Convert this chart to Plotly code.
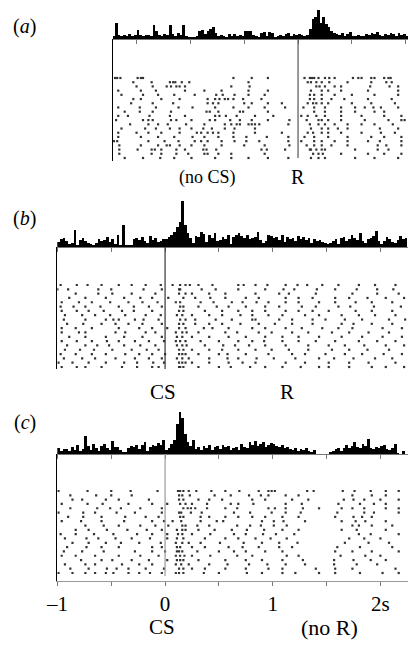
import plotly.graph_objects as go

# ---------------- data ----------------
BIN_W = 0.025  # s

# (a) aligned on R (no CS)
hist_a_start = -1.725
hist_a = [3, 16, 4, 3, 4, 3, 5, 3, 4, 9,
          4, 3, 4, 4, 3, 14, 8, 4, 3, 5,
          4, 14, 5, 3, 6, 4, 14, 3, 2, 2,
          2, 3, 8, 9, 5, 8, 10, 12, 6, 3,
          4, 3, 2, 5, 3, 5, 3, 4, 3, 8,
          8, 8, 4, 3, 2, 6, 7, 3, 7, 6,
          2, 3, 4, 3, 5, 6, 3, 5, 4, 5,
          4, 3, 4, 10, 20, 22, 29, 16, 22, 15,
          12, 8, 6, 5, 4, 6, 3, 5, 7, 3,
          3, 4, 3, 3, 5, 4, 6, 5, 7, 4,
          3, 5, 4, 6, 5, 3, 6, 4, 5, 3]

# (b) aligned on CS, R follows
hist_b_start = -1.0
hist_b = [5, 8, 9, 6, 3, 4, 17, 2, 7, 9,
          6, 4, 3, 2, 4, 8, 6, 7, 10, 5,
          8, 3, 12, 2, 22, 2, 2, 2, 8, 9,
          7, 10, 6, 4, 11, 7, 9, 5, 6, 8,
          8, 10, 12, 15, 20, 25, 46, 22, 14, 9,
          4, 11, 10, 15, 13, 5, 12, 9, 14, 6,
          7, 10, 8, 12, 3, 10, 12, 14, 11, 9,
          12, 8, 9, 10, 15, 7, 4, 6, 12, 11,
          9, 10, 7, 12, 5, 10, 8, 9, 6, 11,
          8, 10, 7, 9, 4, 8, 6, 7, 5, 4,
          3, 4, 6, 8, 3, 9, 10, 6, 8, 12,
          9, 7, 14, 6, 4, 8, 9, 11, 16, 6,
          3, 6, 10, 8, 5, 4, 7, 11, 8, 9]

# (c) aligned on CS, no R
hist_c_start = -1.0
hist_c = [6, 3, 5, 5, 3, 7, 4, 9, 3, 5,
          18, 8, 4, 10, 6, 3, 8, 10, 6, 4,
          13, 7, 7, 4, 2, 2, 6, 8, 7, 9,
          5, 9, 12, 3, 7, 9, 8, 11, 9, 14,
          4, 6, 10, 14, 30, 42, 36, 20, 12, 8,
          14, 5, 7, 4, 8, 6, 9, 4, 7, 8,
          5, 9, 7, 8, 4, 6, 7, 4, 10, 7,
          6, 12, 9, 13, 8, 10, 12, 7, 9, 11,
          10, 8, 7, 9, 6, 7, 5, 4, 6, 3,
          5, 4, 6, 3, 2, 4, 0, 0, 0, 0,
          0, 2, 3, 5, 6, 3, 6, 9, 6, 8,
          12, 7, 6, 10, 8, 15, 6, 5, 7, 6,
          8, 9, 5, 4, 6, 10, 1, 0, 3, 0]

raster_a = [
    [-1.70, -1.68, -1.65, -1.49, -1.46, -1.44, -0.60, -0.43, -0.28, 0.06, 0.11, 0.13, 0.15, 0.19, 0.25, 0.29, 0.34, 0.51, 0.56, 0.59, 0.68, 0.71, 0.80, 0.84, 0.86],
    [-1.53, -1.36, -1.19, -1.16, -1.14, -1.08, -1.01, -0.46, 0.09, 0.12, 0.17, 0.22, 0.29, 0.46, 0.68, 0.82, 0.87],
    [-1.50, -1.35, -1.22, -1.18, -1.13, -1.10, -1.05, -0.62, -0.45, 0.17, 0.20, 0.25, 0.34, 0.40, 0.67, 0.85, 0.93],
    [-1.67, -1.46, -1.32, -1.05, -0.87, -0.71, -0.46, -0.28, 0.12, 0.22, 0.28, 0.40, 0.65, 0.93],
    [-1.64, -1.44, -1.30, -1.15, -0.96, -0.76, -0.70, -0.59, -0.46, -0.31, 0.11, 0.15, 0.22, 0.34, 0.50, 0.71, 0.93],
    [-1.53, -1.46, -1.27, -1.10, -0.84, -0.77, -0.73, -0.68, -0.65, -0.60, -0.51, -0.34, 0.11, 0.15, 0.22, 0.31, 0.43, 0.65, 0.87],
    [-1.55, -1.35, -1.16, -0.84, -0.79, -0.74, -0.50, -0.43, -0.28, -0.15, 0.09, 0.14, 0.17, 0.22, 0.28, 0.50, 0.68, 0.90],
    [-1.67, -1.47, -1.32, -1.11, -0.98, -0.77, -0.60, -0.46, -0.31, -0.12, 0.05, 0.15, 0.25, 0.40, 0.53, 0.62, 0.70, 0.77, 0.93],
    [-1.61, -1.47, -1.35, -1.18, -0.85, -0.82, -0.74, -0.54, -0.51, -0.28, 0.15, 0.25, 0.40, 0.53, 0.71, 0.80],
    [-1.67, -1.58, -1.38, -1.19, -1.05, -0.77, -0.73, -0.67, -0.57, -0.40, -0.23, 0.03, 0.09, 0.17, 0.25, 0.40, 0.59, 0.80, 0.96],
    [-1.69, -1.44, -1.39, -1.35, -1.18, -1.13, -0.99, -0.82, -0.77, -0.63, -0.54, -0.43, -0.28, -0.08, 0.08, 0.19, 0.22, 0.28, 0.40, 0.62, 0.84, 0.96, 0.99],
    [-1.56, -1.39, -1.30, -1.21, -1.04, -0.87, -0.68, -0.62, -0.57, -0.54, -0.46, -0.43, -0.40, -0.36, -0.09, 0.11, 0.19, 0.25, 0.34, 0.46, 0.59, 0.71, 0.88],
    [-1.64, -1.42, -1.32, -1.19, -1.10, -0.99, -0.88, -0.80, -0.68, -0.59, -0.40, 0.12, 0.22, 0.28, 0.37, 0.46, 0.76, 0.93],
    [-1.67, -1.50, -1.39, -1.27, -1.10, -0.94, -0.90, -0.84, -0.79, -0.74, -0.60, -0.40, -0.15, 0.09, 0.14, 0.22, 0.28, 0.40, 0.59, 0.77, 0.90],
    [-1.67, -1.46, -1.30, -1.15, -0.98, -0.87, -0.74, -0.60, -0.48, -0.29, -0.09, 0.06, 0.15, 0.28, 0.46, 0.68, 0.80, 0.96],
    [-1.71, -1.68, -1.39, -1.24, -1.11, -0.96, -0.90, -0.84, -0.71, -0.59, -0.48, -0.36, -0.09, 0.03, 0.15, 0.22, 0.34, 0.46, 0.65, 0.76, 0.96],
    [-1.66, -1.46, -1.30, -1.22, -1.19, -1.10, -0.99, -0.87, -0.71, -0.50, -0.31, -0.08, 0.08, 0.15, 0.22, 0.31, 0.46, 0.74, 0.82, 0.96],
    [-1.66, -1.49, -1.36, -1.33, -1.27, -1.13, -1.05, -0.88, -0.85, -0.76, -0.34, -0.29, -0.12, 0.11, 0.12, 0.17, 0.22, 0.25, 0.53, 0.74, 0.84],
    [-1.66, -1.36, -1.27, -1.13, -1.02, -0.87, -0.84, -0.74, -0.62, -0.31, 0.14, 0.19, 0.23, 0.40, 0.65, 0.80, 0.96],
    [-1.61, -1.44, -1.28, -1.15, -0.99, -0.77, -0.62, -0.46, -0.28, -0.09, 0.12, 0.19, 0.25, 0.53, 0.71, 0.93],
]

raster_b = [
    [-0.97, -0.82, -0.72, -0.59, -0.43, -0.31, -0.18, -0.04, 0.07, 0.14, 0.19, 0.23, 0.31, 0.44, 0.68, 0.73, 0.84, 0.95, 1.12, 1.23, 1.32, 1.46, 1.61, 1.80, 1.95, 2.14],
    [-1.00, -0.90, -0.62, -0.50, -0.20, -0.03, 0.13, 0.14, 0.34, 0.47, 0.68, 0.93, 1.10, 1.20, 1.41, 1.58, 1.78, 1.97, 2.12],
    [-0.83, -0.62, -0.49, -0.31, -0.09, 0.13, 0.19, 0.25, 0.41, 0.56, 0.84, 1.06, 1.15, 1.40, 1.74, 1.97, 2.17],
    [-0.89, -0.74, -0.55, -0.38, -0.23, -0.12, 0.03, 0.17, 0.28, 0.42, 0.56, 0.75, 0.87, 1.12, 1.24, 1.37, 1.58, 1.71, 1.88, 2.05, 2.22],
    [-0.96, -0.80, -0.68, -0.51, -0.34, -0.21, -0.07, 0.10, 0.14, 0.33, 0.45, 0.62, 0.72, 0.85, 0.96, 1.12, 1.24, 1.43, 1.58, 1.77, 1.92, 2.11],
    [-0.97, -0.85, -0.74, -0.60, -0.43, -0.29, -0.15, -0.03, 0.14, 0.17, 0.31, 0.48, 0.59, 0.75, 0.93, 1.06, 1.27, 1.40, 1.61, 1.72, 1.94, 2.19],
    [-0.96, -0.82, -0.71, -0.57, -0.40, -0.29, -0.12, 0.13, 0.17, 0.37, 0.53, 0.68, 0.81, 0.93, 1.12, 1.24, 1.37, 1.52, 1.77, 1.92, 2.11],
    [-0.93, -0.77, -0.65, -0.51, -0.37, -0.18, -0.04, 0.11, 0.16, 0.25, 0.41, 0.53, 0.70, 0.81, 0.96, 1.09, 1.30, 1.43, 1.64, 1.80, 1.95, 2.14],
    [-0.94, -0.74, -0.55, -0.48, -0.43, -0.28, -0.20, -0.06, 0.14, 0.19, 0.28, 0.47, 0.62, 0.81, 0.84, 1.06, 1.18, 1.37, 1.49, 1.67, 1.83, 2.08, 2.23],
    [-0.91, -0.76, -0.59, -0.46, -0.34, -0.21, -0.03, 0.13, 0.17, 0.28, 0.41, 0.53, 0.70, 0.87, 1.02, 1.18, 1.37, 1.64, 1.75, 1.92, 2.11],
    [-0.96, -0.83, -0.68, -0.43, -0.24, -0.12, 0.02, 0.13, 0.19, 0.36, 0.44, 0.59, 0.81, 0.93, 1.12, 1.27, 1.46, 1.61, 1.74, 2.02, 2.20],
    [-0.96, -0.80, -0.74, -0.46, -0.37, -0.18, -0.09, 0.10, 0.16, 0.20, 0.31, 0.56, 0.67, 0.87, 0.99, 1.18, 1.33, 1.55, 1.71, 1.89, 2.08],
    [-0.89, -0.74, -0.55, -0.38, -0.21, -0.03, 0.11, 0.16, 0.25, 0.41, 0.59, 0.75, 0.93, 1.09, 1.24, 1.43, 1.64, 1.83, 2.02, 2.20],
    [-0.96, -0.82, -0.68, -0.54, -0.43, -0.28, -0.15, -0.01, 0.10, 0.14, 0.19, 0.33, 0.50, 0.68, 0.81, 0.92, 1.09, 1.24, 1.40, 1.58, 1.80, 1.97, 2.14],
    [-0.91, -0.74, -0.63, -0.52, -0.38, -0.23, -0.09, 0.11, 0.16, 0.20, 0.37, 0.54, 0.65, 0.78, 0.93, 1.12, 1.33, 1.52, 1.67, 1.85, 2.05, 2.22],
    [-0.93, -0.79, -0.66, -0.49, -0.31, -0.17, -0.06, 0.13, 0.17, 0.25, 0.41, 0.53, 0.68, 0.84, 0.99, 1.15, 1.33, 1.55, 1.71, 1.88, 2.08],
    [-0.97, -0.83, -0.68, -0.55, -0.37, -0.24, -0.12, 0.00, 0.13, 0.16, 0.19, 0.31, 0.50, 0.58, 0.75, 0.96, 1.18, 1.30, 1.49, 1.67, 1.83, 2.03, 2.20],
    [-0.94, -0.77, -0.65, -0.46, -0.28, -0.15, -0.03, 0.11, 0.16, 0.22, 0.41, 0.58, 0.68, 0.85, 1.01, 1.21, 1.43, 1.57, 1.75, 1.95, 2.11],
    [-0.99, -0.86, -0.71, -0.55, -0.38, -0.26, -0.11, -0.01, 0.13, 0.16, 0.19, 0.25, 0.41, 0.59, 0.72, 0.84, 1.12, 1.30, 1.52, 1.71, 1.89, 2.14],
    [-0.96, -0.82, -0.74, -0.59, -0.40, -0.26, -0.12, -0.06, 0.13, 0.14, 0.17, 0.31, 0.50, 0.61, 0.79, 0.93, 1.09, 1.26, 1.43, 1.52, 1.71, 1.92, 2.05, 2.22],
]

raster_c = [
    [-0.99, -0.72, -0.50, -0.32, -0.07, 0.12, 0.14, 0.17, 0.22, 0.29, 0.43, 0.56, 0.69, 0.87, 0.96, 0.99, 1.02, 1.32, 1.38, 1.65, 1.76, 1.91, 2.05, 2.17],
    [-0.88, -0.64, -0.50, -0.31, 0.13, 0.16, 0.23, 0.46, 0.61, 0.78, 0.89, 0.96, 1.12, 1.24, 1.74, 1.92, 2.05],
    [-0.86, -0.77, -0.55, -0.43, -0.15, 0.13, 0.17, 0.31, 0.41, 0.53, 0.81, 0.93, 1.18, 1.33, 1.66, 1.75, 1.85, 2.00, 2.17],
    [-0.96, -0.72, -0.58, -0.34, -0.12, 0.02, 0.14, 0.19, 0.25, 0.39, 0.61, 0.68, 0.82, 1.12, 1.27, 1.61, 1.81, 1.94, 2.05],
    [-0.88, -0.63, -0.51, -0.41, -0.23, -0.03, 0.17, 0.21, 0.24, 0.28, 0.39, 0.56, 0.67, 0.96, 1.02, 1.12, 1.28, 1.43, 1.64, 1.74, 1.85, 2.05, 2.17],
    [-0.99, -0.76, -0.65, -0.45, -0.28, -0.03, 0.13, 0.15, 0.24, 0.34, 0.64, 0.79, 0.99, 1.12, 1.26, 1.60, 1.85, 1.94, 2.17],
    [-0.90, -0.76, -0.59, -0.37, -0.18, -0.06, 0.14, 0.17, 0.33, 0.41, 0.56, 0.68, 0.81, 0.93, 1.09, 1.24, 1.58, 1.75, 1.83, 1.92],
    [-0.96, -0.78, -0.59, -0.38, -0.12, -0.01, 0.07, 0.15, 0.33, 0.48, 0.54, 0.90, 1.01, 1.10, 1.30, 1.64, 1.77, 1.86, 2.05],
    [-0.74, -0.57, -0.43, -0.23, -0.09, 0.03, 0.16, 0.19, 0.30, 0.41, 0.67, 0.79, 0.89, 1.01, 1.13, 1.74, 1.80, 1.92, 2.11],
    [-0.83, -0.71, -0.54, -0.35, -0.17, -0.03, 0.11, 0.16, 0.19, 0.31, 0.46, 0.62, 0.76, 0.92, 1.09, 1.24, 1.64, 1.78, 2.05],
    [-0.97, -0.83, -0.66, -0.48, -0.26, -0.12, 0.02, 0.12, 0.16, 0.25, 0.42, 0.64, 0.75, 0.91, 1.03, 1.20, 1.80, 1.91, 2.17],
    [-0.93, -0.73, -0.62, -0.46, -0.31, -0.14, 0.02, 0.11, 0.17, 0.37, 0.56, 0.68, 0.84, 0.98, 1.13, 1.71, 1.85, 2.00],
    [-0.86, -0.71, -0.55, -0.41, -0.24, -0.04, 0.10, 0.16, 0.22, 0.33, 0.51, 0.73, 0.90, 1.06, 1.23, 1.67, 1.89, 2.08],
    [-0.91, -0.73, -0.59, -0.43, -0.12, -0.03, 0.11, 0.14, 0.25, 0.37, 0.59, 0.72, 0.87, 1.06, 1.18, 1.60, 1.81, 2.11],
    [-0.94, -0.77, -0.57, -0.28, -0.12, 0.00, 0.11, 0.13, 0.16, 0.30, 0.50, 0.64, 0.75, 0.93, 1.09, 1.58, 1.74, 1.92, 2.17],
    [-0.96, -0.83, -0.65, -0.43, -0.23, -0.06, 0.10, 0.14, 0.18, 0.25, 0.42, 0.67, 0.81, 1.13, 1.24, 1.63, 1.86, 2.00],
    [-0.78, -0.59, -0.49, -0.31, -0.15, 0.02, 0.11, 0.14, 0.17, 0.31, 0.56, 0.75, 0.90, 1.09, 1.28, 1.57, 1.75, 1.91, 2.05],
    [-0.93, -0.74, -0.65, -0.40, -0.24, -0.12, 0.10, 0.15, 0.22, 0.41, 0.58, 0.78, 0.95, 1.12, 1.30, 1.57, 1.78, 1.97],
    [-0.88, -0.71, -0.54, -0.45, -0.34, -0.18, -0.01, 0.13, 0.17, 0.25, 0.37, 0.56, 0.75, 0.96, 1.09, 1.40, 1.58, 1.74, 2.14],
    [-0.99, -0.86, -0.74, -0.65, -0.55, -0.48, -0.34, -0.24, -0.14, -0.03, 0.10, 0.13, 0.17, 0.36, 0.50, 0.76, 0.90, 1.09, 1.21, 1.43, 1.58, 1.81, 2.02, 2.17],
]

panel_labels = ["(<i>a</i>)", "(<i>b</i>)", "(<i>c</i>)"]
event_labels = [["(no CS)", "R"], ["CS", "R"], ["CS", "(no R)"]]
tick_vals = [-1.5, -1, -0.5, 0, 0.5, 1, 1.5, 2]
tick_text = ["", "–1", "", "0", "", "1", "", "2s"]

# ---------------- layout geometry (pixels) ----------------
W, H = 408, 646
PXS = 107.7  # pixels per second
FONT = "Liberation Serif, Times New Roman, serif"

geo = [
    dict(left=113, zero=298, base=39, top=8, row1=78, rowN=158, bottom=161, ev_bot=158,
         ev_col="#555", lab_y=177, lab_x=[207, 298], lab_size=[18, 20], plab_y=26),
    dict(left=165 - PXS, zero=165, base=247, top=199, row1=285, rowN=367, bottom=369, ev_bot=369,
         ev_col="#333", lab_y=392, lab_x=[163, 287], lab_size=[21, 21], plab_y=218),
    dict(left=165 - PXS, zero=165, base=454, top=410, row1=491, rowN=573, bottom=581, ev_bot=576,
         ev_col="#999", lab_y=627, lab_x=[162, 329], lab_size=[21, 22], plab_y=422),
]
hists = [(hist_a_start, hist_a), (hist_b_start, hist_b), (hist_c_start, hist_c)]
rasters = [raster_a, raster_b, raster_c]


def py(p):
    return 1 - p / H


fig = go.Figure()
layout = dict(template="none", width=W, height=H, margin=dict(l=0, r=0, t=0, b=0, pad=0, autoexpand=False),
              paper_bgcolor="white", plot_bgcolor="rgba(0,0,0,0)",
              showlegend=False, bargap=0, font=dict(family=FONT, color="black"))
shapes, annotations = [], []

for i, (g, (h_start, h_vals), rast) in enumerate(zip(geo, hists, rasters)):
    hx, hy = 2 * i + 1, 2 * i + 1
    rx, ry = 2 * i + 2, 2 * i + 2
    xr = [(g["left"] - g["zero"]) / PXS - 0.001, (W - g["zero"]) / PXS]
    xdom = [g["left"] / W, 1]

    # histogram
    centers = [h_start + (k + 0.5) * BIN_W for k in range(len(h_vals))]
    fig.add_trace(go.Bar(x=centers, y=h_vals, width=BIN_W, marker=dict(color="black", line=dict(width=0)),
                         xaxis=f"x{hx}", yaxis=f"y{hy}", hoverinfo="skip"))
    layout[f"xaxis{hx}"] = dict(domain=xdom, range=xr, anchor=f"y{hy}", showgrid=False, zeroline=False,
                                automargin=False, showline=True, linecolor="#777", linewidth=1,
                                ticks="outside", ticklen=4, tickcolor="#777", tickvals=tick_vals,
                                showticklabels=False)
    layout[f"yaxis{hy}"] = dict(domain=[py(g["base"]), py(g["top"])], range=[0, g["base"] - g["top"]],
                                anchor=f"x{hx}", visible=False, automargin=False)

    # raster
    xs, ys = [], []
    for r, row in enumerate(rast, start=1):
        xs.extend(row)
        ys.extend([r] * len(row))
    fig.add_trace(go.Scatter(x=xs, y=ys, mode="markers",
                             marker=dict(symbol="square", size=2.2, color="#333333", line=dict(width=0)),
                             xaxis=f"x{rx}", yaxis=f"y{ry}", hoverinfo="skip"))
    n = len(rast)
    sp = (g["rowN"] - g["row1"]) / (n - 1)
    y_top_val = 1 - (g["row1"] - g["base"]) / sp
    y_bot_val = n + (g["bottom"] - g["rowN"]) / sp
    layout[f"yaxis{ry}"] = dict(domain=[py(g["bottom"]), py(g["base"])], range=[y_bot_val, y_top_val],
                                anchor=f"x{rx}", showgrid=False, zeroline=False, showline=True,
                                automargin=False, linecolor="black", linewidth=1, ticks="",
                                showticklabels=False)
    if i == 2:
        layout[f"xaxis{rx}"] = dict(domain=xdom, range=xr, anchor=f"y{ry}", showgrid=False, zeroline=False,
                                    automargin=False, showline=True, linecolor="#999", linewidth=1,
                                    ticks="outside", ticklen=4, tickcolor="#777", tickvals=tick_vals,
                                    ticktext=tick_text, tickfont=dict(family=FONT, size=21, color="black"),
                                    ticklabelstandoff=0)
    else:
        layout[f"xaxis{rx}"] = dict(domain=xdom, range=xr, anchor=f"y{ry}", visible=False, automargin=False)

    # event line (CS or R at t = 0)
    shapes.append(dict(type="line", xref=f"x{rx}", yref="paper", x0=0, x1=0,
                       y0=py(g["base"]), y1=py(g["ev_bot"]), line=dict(color=g["ev_col"], width=1.2)))

    # labels
    annotations.append(dict(text=panel_labels[i], x=24.5 / W, y=py(g["plab_y"]), xref="paper", yref="paper",
                            showarrow=False, xanchor="center", yanchor="middle",
                            font=dict(family=FONT, size=20, color="black")))
    for txt, lx, fs in zip(event_labels[i], g["lab_x"], g["lab_size"]):
        annotations.append(dict(text=txt, x=lx / W, y=py(g["lab_y"]), xref="paper", yref="paper",
                                showarrow=False, xanchor="center", yanchor="middle",
                                font=dict(family=FONT, size=fs, color="black")))

layout["shapes"] = shapes
layout["annotations"] = annotations
fig.update_layout(**layout)
fig.write_html("out.html", config={"displayModeBar": False, "staticPlot": True},
               post_script="document.body.style.margin='0px';document.body.style.overflow='hidden';")
